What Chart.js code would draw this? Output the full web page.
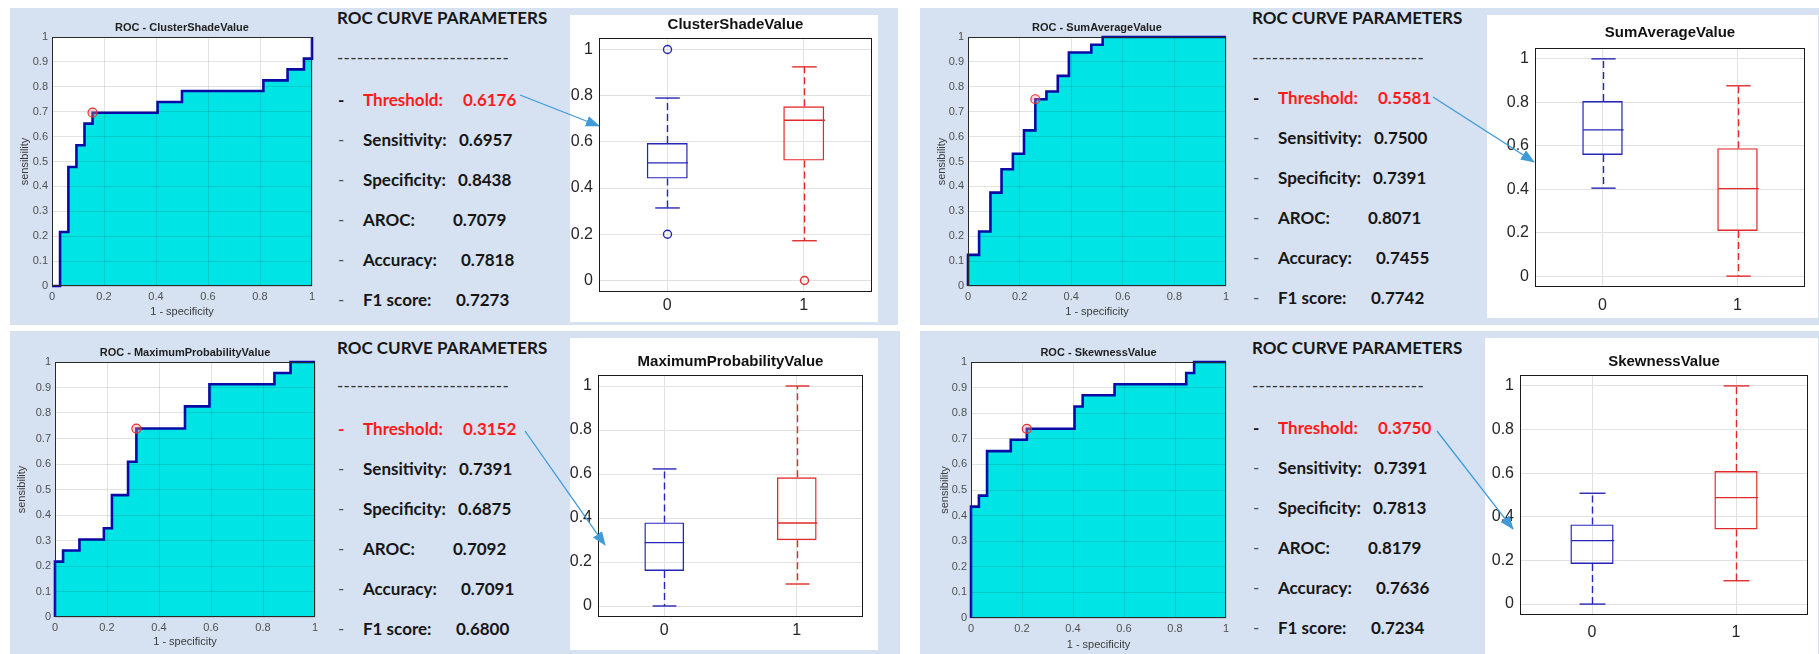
<!DOCTYPE html>
<html>
<head>
<meta charset="utf-8">
<title>ROC curves and box plots</title>
<script src="https://cdn.jsdelivr.net/npm/chart.js@4.4.1/dist/chart.umd.min.js"></script>
<style>
  html, body { margin: 0; padding: 0; }
  body { width: 1819px; height: 654px; position: relative; overflow: hidden; background: #fff; }
  .panel { position: absolute; background: #d6e2f2; }
  .plotbox { position: absolute; background: #fff; }
  canvas { position: absolute; }
  .txt { position: absolute; font-family: Lato, 'Open Sans', sans-serif; font-size: 17px; line-height: 22px;
         white-space: nowrap; color: #161616; font-weight: 700; }
  #arrows { position: absolute; left: 0; top: 0; pointer-events: none; }
</style>
</head>
<body>
<div id="stage"></div>
<svg id="arrows" width="1819" height="654"></svg>
<script>
'use strict';

/* ── data ─────────────────────────────────────────────── */
const FEATURES = ['ClusterShadeValue', 'SumAverageValue', 'MaximumProbabilityValue', 'SkewnessValue'];

// ROC vertices: x = 1 - specificity, y = sensibility (stepped curve corners)
const ROC_CLUSTER_X = [0, 0.031, 0.063, 0.094, 0.125, 0.156, 0.406, 0.500, 0.813, 0.906, 0.969, 1];
const ROC_CLUSTER_Y = [0, 0.217, 0.478, 0.565, 0.652, 0.696, 0.739, 0.783, 0.826, 0.870, 0.913, 1];
const ROC_SUMAVG_X  = [0, 0, 0.043, 0.087, 0.130, 0.174, 0.217, 0.261, 0.304, 0.348, 0.391, 0.478, 0.522, 1];
const ROC_SUMAVG_Y  = [0, 0.125, 0.219, 0.375, 0.469, 0.531, 0.625, 0.750, 0.781, 0.844, 0.938, 0.969, 1, 1];
const ROC_MAXPROB_X = [0, 0, 0.031, 0.094, 0.188, 0.219, 0.281, 0.313, 0.500, 0.594, 0.844, 0.906, 1];
const ROC_MAXPROB_Y = [0, 0.217, 0.261, 0.304, 0.348, 0.478, 0.609, 0.739, 0.826, 0.913, 0.957, 1, 1];
const ROC_SKEW_X    = [0, 0, 0.031, 0.063, 0.156, 0.219, 0.406, 0.438, 0.563, 0.844, 0.875, 1];
const ROC_SKEW_Y    = [0, 0.435, 0.478, 0.652, 0.696, 0.739, 0.826, 0.870, 0.913, 0.957, 1, 1];

// optimal operating point (red circle)
const OP_X = [0.156, 0.261, 0.313, 0.219];
const OP_Y = [0.696, 0.750, 0.739, 0.739];

const ROC_X_TICKS = [0, 0.2, 0.4, 0.6, 0.8, 1];
const ROC_Y_TICKS = [0, 0.1, 0.2, 0.3, 0.4, 0.5, 0.6, 0.7, 0.8, 0.9, 1];

// box plots, per group: [lower whisker, q1, median, q3, upper whisker]
const GROUPS = ['0', '1'];
const BOX_CLUSTER = [[0.314, 0.441, 0.509, 0.595, 0.790], [0.172, 0.519, 0.694, 0.754, 0.925]];
const BOX_SUMAVG  = [[0.405, 0.558, 0.673, 0.806, 1.000], [0.000, 0.208, 0.403, 0.589, 0.876]];
const BOX_MAXPROB = [[0.000, 0.159, 0.288, 0.380, 0.623], [0.100, 0.299, 0.377, 0.585, 1.000]];
const BOX_SKEW    = [[0.000, 0.184, 0.291, 0.365, 0.508], [0.107, 0.342, 0.488, 0.610, 1.000]];
const OUT_CLUSTER = [[1.0, 0.2], [0.0]];
const OUT_NONE    = [[], []];
const BOX_Y_TICKS = [0, 0.2, 0.4, 0.6, 0.8, 1];

// ROC parameters text
const PARAM_LABELS = ['Threshold:', 'Sensitivity:', 'Specificity:', 'AROC:', 'Accuracy:', 'F1 score:'];
const PARAMS_CLUSTER = ['0.6176', '0.6957', '0.8438', '0.7079', '0.7818', '0.7273'];
const PARAMS_SUMAVG  = ['0.5581', '0.7500', '0.7391', '0.8071', '0.7455', '0.7742'];
const PARAMS_MAXPROB = ['0.3152', '0.7391', '0.6875', '0.7092', '0.7091', '0.6800'];
const PARAMS_SKEW    = ['0.3750', '0.7391', '0.7813', '0.8179', '0.7636', '0.7234'];

/* ── look ─────────────────────────────────────────────── */
const BOX_COLORS = ['#2626b8', '#e22a2a'];
const ROC_FILL = '#00e4e6';
const ROC_LINE = '#0a0aa6';
const ARROW = '#3f9ad8';
const VALUE_DX = [100, 96, 95, 90, 98, 93];

const LAYOUT = [
  { panel: [10, 8, 888, 317], redDash: false,
    roc: { box: [10, 8, 310, 317], plot: [52, 37, 312, 286], titleY: 28, yTitleX: 25, xTitleY: 312 },
    text: { x: 337, titleY: 18, dashY: 58, rowY: 100 },
    bp: { box: [570, 15, 308, 307], plot: [599, 38, 872, 292], titleY: 25, tickY: 305 },
    arrow: [520, 95, 599, 126] },
  { panel: [920, 8, 899, 317], redDash: false,
    roc: { box: [920, 8, 314, 317], plot: [968, 37, 1226, 286], titleY: 28, yTitleX: 942, xTitleY: 312 },
    text: { x: 1252, titleY: 18, dashY: 58, rowY: 98 },
    bp: { box: [1487, 15, 331, 303], plot: [1535, 48, 1805, 287], titleY: 33, tickY: 305 },
    arrow: [1433, 97, 1534, 162] },
  { panel: [10, 331, 890, 323], redDash: true,
    roc: { box: [10, 332, 313, 322], plot: [55, 362, 315, 617], titleY: 353, yTitleX: 22, xTitleY: 642 },
    text: { x: 337, titleY: 348, dashY: 386, rowY: 429 },
    bp: { box: [570, 338, 308, 312], plot: [598, 375, 863, 617], titleY: 362, tickY: 630 },
    arrow: [525, 431, 605, 545] },
  { panel: [920, 331, 899, 323], redDash: false,
    roc: { box: [920, 332, 314, 322], plot: [971, 362, 1226, 618], titleY: 353, yTitleX: 945, xTitleY: 645 },
    text: { x: 1252, titleY: 348, dashY: 386, rowY: 428 },
    bp: { box: [1485, 338, 333, 316], plot: [1520, 375, 1808, 615], titleY: 362, tickY: 632 },
    arrow: [1437, 431, 1513, 529] },
];

const ROC_X = [ROC_CLUSTER_X, ROC_SUMAVG_X, ROC_MAXPROB_X, ROC_SKEW_X];
const ROC_Y = [ROC_CLUSTER_Y, ROC_SUMAVG_Y, ROC_MAXPROB_Y, ROC_SKEW_Y];
const BOXES = [BOX_CLUSTER, BOX_SUMAVG, BOX_MAXPROB, BOX_SKEW];
const OUTLIERS = [OUT_CLUSTER, OUT_NONE, OUT_NONE, OUT_NONE];
const PARAMS = [PARAMS_CLUSTER, PARAMS_SUMAVG, PARAMS_MAXPROB, PARAMS_SKEW];

Chart.defaults.font.family = "'Liberation Sans', Arial, sans-serif";
Chart.defaults.animation = false;

const stage = document.getElementById('stage');

function addDiv(cls, [l, t, w, h]) {
  const d = document.createElement('div');
  d.className = cls;
  Object.assign(d.style, { left: l + 'px', top: t + 'px', width: w + 'px', height: h + 'px' });
  stage.appendChild(d);
}

function addCanvas([l, t, w, h]) {
  const c = document.createElement('canvas');
  c.width = w; c.height = h;
  c.style.left = l + 'px'; c.style.top = t + 'px';
  stage.appendChild(c);
  return c;
}

function addText(x, y, text, style) {
  const s = document.createElement('span');
  s.className = 'txt';
  s.textContent = text;
  s.style.left = x + 'px';
  s.style.top = (y - 11) + 'px';
  Object.assign(s.style, style || {});
  stage.appendChild(s);
}

const fmtTick = v => String(Math.round(v * 10) / 10);

// white plot background + dark axes box (MATLAB "box on")
function framePlugin(color) {
  return {
    id: 'frame',
    beforeDraw(chart) {
      const a = chart.chartArea, ctx = chart.ctx;
      ctx.save();
      ctx.fillStyle = '#fff';
      ctx.fillRect(a.left, a.top, a.right - a.left, a.bottom - a.top);
      ctx.restore();
    },
    afterDraw(chart) {
      const a = chart.chartArea, ctx = chart.ctx;
      ctx.save();
      ctx.strokeStyle = color;
      ctx.lineWidth = 1;
      ctx.strokeRect(Math.round(a.left) + 0.5, Math.round(a.top) + 0.5,
                     Math.round(a.right - a.left) - 1, Math.round(a.bottom - a.top) - 1);
      ctx.restore();
    },
  };
}

// median, dashed whiskers, caps and outliers on top of the floating-bar boxes
function whiskerPlugin(stats, outliers) {
  return {
    id: 'whiskers',
    afterDatasetsDraw(chart) {
      const { ctx, scales: { x, y } } = chart;
      const step = x.getPixelForValue(1) - x.getPixelForValue(0);
      const boxHalf = step * 0.15, capHalf = step * 0.09;
      const seg = (x0, y0, x1, y1) => { ctx.beginPath(); ctx.moveTo(x0, y0); ctx.lineTo(x1, y1); ctx.stroke(); };
      stats.forEach((s, i) => {
        const cx = Math.round(x.getPixelForValue(i)) + 0.5;
        const [lo, q1, med, q3, hi] = s.map(v => y.getPixelForValue(v));
        ctx.save();
        ctx.strokeStyle = BOX_COLORS[i];
        ctx.lineWidth = 1.4;
        seg(cx - boxHalf, med, cx + boxHalf, med);
        seg(cx - capHalf, hi, cx + capHalf, hi);
        seg(cx - capHalf, lo, cx + capHalf, lo);
        ctx.setLineDash([7, 4]);
        seg(cx, q3, cx, hi);
        seg(cx, q1, cx, lo);
        ctx.setLineDash([]);
        outliers[i].forEach(v => {
          ctx.beginPath();
          ctx.arc(cx, y.getPixelForValue(v), 4, 0, Math.PI * 2);
          ctx.stroke();
        });
        ctx.restore();
      });
    },
  };
}

function makeRoc(k) {
  const L = LAYOUT[k].roc;
  const [l, t, w, h] = L.box;
  const [x0, y0, x1, y1] = L.plot;
  const lh = 11 * 1.2;
  const tTop = L.titleY - t - lh / 2;
  const tBottom = (y0 - t) - lh - tTop;

  new Chart(addCanvas(L.box), {
    type: 'line',
    data: {
      datasets: [
        {
          data: [{ x: OP_X[k], y: OP_Y[k] }],
          showLine: false,
          pointRadius: 4.5,
          pointBorderWidth: 1.2,
          pointBorderColor: '#e43030',
          pointBackgroundColor: 'rgba(255,140,140,0.35)',
          clip: 8,
        },
        {
          data: ROC_X[k].map((xv, i) => ({ x: xv, y: ROC_Y[k][i] })),
          stepped: 'before',
          borderColor: ROC_LINE,
          borderWidth: 2.6,
          backgroundColor: ROC_FILL,
          fill: 'origin',
          pointRadius: 0,
          clip: 4,
        },
      ],
    },
    options: {
      responsive: false,
      layout: { padding: { left: 0, top: 0, right: l + w - x1, bottom: 0 } },
      plugins: {
        legend: { display: false },
        tooltip: { enabled: false },
        title: {
          display: true,
          fullSize: false,
          text: 'ROC - ' + FEATURES[k],
          color: '#1e1e1e',
          font: { size: 11, weight: 'bold' },
          padding: { top: tTop, bottom: tBottom },
        },
      },
      scales: {
        x: {
          type: 'linear', min: 0, max: 1,
          afterBuildTicks: s => { s.ticks = ROC_X_TICKS.map(v => ({ value: v })); },
          afterFit: s => { s.height = t + h - y1; },
          ticks: { callback: fmtTick, color: '#505050', font: { size: 11 }, padding: 4, maxRotation: 0, autoSkip: false },
          grid: { color: 'rgba(0,0,0,0.11)', drawTicks: false, z: 1 },
          border: { display: false },
          title: { display: true, text: '1 - specificity', color: '#3a3a3a', font: { size: 11 },
                   padding: { top: 0, bottom: (t + h) - L.xTitleY - lh / 2 } },
        },
        y: {
          type: 'linear', min: 0, max: 1,
          afterBuildTicks: s => { s.ticks = ROC_Y_TICKS.map(v => ({ value: v })); },
          afterFit: s => { s.width = x0 - l; },
          ticks: { callback: fmtTick, color: '#505050', font: { size: 11 }, padding: 4, autoSkip: false },
          grid: { color: 'rgba(0,0,0,0.11)', drawTicks: false, z: 1 },
          border: { display: false },
          title: { display: true, text: 'sensibility', color: '#3a3a3a', font: { size: 11 },
                   padding: { top: L.yTitleX - l - lh / 2, bottom: 0 } },
        },
      },
    },
    plugins: [framePlugin('#2a2a2a')],
  });
}

function makeBox(k) {
  const L = LAYOUT[k].bp;
  const [l, t, w, h] = L.box;
  const [x0, y0, x1, y1] = L.plot;
  const lh = 15 * 1.2;
  const tTop = L.titleY - t - lh / 2;
  const tBottom = (y0 - t) - lh - tTop;
  const stats = BOXES[k];

  addDiv('plotbox', L.box);
  new Chart(addCanvas(L.box), {
    type: 'bar',
    data: {
      labels: GROUPS,
      datasets: [{
        data: stats.map(s => [s[1], s[3]]),
        backgroundColor: 'rgba(0,0,0,0)',
        borderColor: BOX_COLORS,
        borderWidth: 1.4,
        borderSkipped: false,
        barPercentage: 0.3,
        categoryPercentage: 1,
      }],
    },
    options: {
      responsive: false,
      layout: { padding: { left: 0, top: 0, right: l + w - x1, bottom: 0 } },
      plugins: {
        legend: { display: false },
        tooltip: { enabled: false },
        title: {
          display: true,
          fullSize: false,
          text: FEATURES[k],
          color: '#111',
          font: { size: 15, weight: 'bold' },
          padding: { top: tTop, bottom: tBottom },
        },
      },
      scales: {
        x: {
          offset: true,
          afterFit: s => { s.height = t + h - y1; },
          ticks: { color: '#262626', font: { size: 16 }, padding: L.tickY - y1 - 9 },
          grid: { offset: false, color: '#e2e2e2', drawTicks: false },
          border: { display: false },
        },
        y: {
          min: -0.05, max: 1.05,
          afterBuildTicks: s => { s.ticks = BOX_Y_TICKS.map(v => ({ value: v })); },
          afterFit: s => { s.width = x0 - l; },
          ticks: { callback: fmtTick, color: '#262626', font: { size: 16 }, padding: 6, autoSkip: false },
          grid: { color: '#e2e2e2', drawTicks: false },
          border: { display: false },
        },
      },
    },
    plugins: [framePlugin('#1a1a1a'), whiskerPlugin(stats, OUTLIERS[k])],
  });
}

function makeParams(k) {
  const T = LAYOUT[k].text;
  const labelX = T.x + 26;
  addText(T.x, T.titleY, 'ROC CURVE PARAMETERS');
  addText(T.x, T.dashY, '-'.repeat(26), { fontWeight: 400, color: '#333', letterSpacing: '0.3px' });
  PARAM_LABELS.forEach((lab, i) => {
    const y = T.rowY + i * 40;
    const first = i === 0;
    const color = first ? '#ff1a1a' : '#161616';
    addText(T.x + 1, y, '-', first
      ? { color: LAYOUT[k].redDash ? '#ff1a1a' : '#161616' }
      : { fontWeight: 400, color: '#555' });
    addText(labelX, y, lab, { color });
    addText(labelX + VALUE_DX[i], y, PARAMS[k][i], { color });
  });
}

LAYOUT.forEach(L => addDiv('panel', L.panel));
FEATURES.forEach((_, k) => { makeRoc(k); makeBox(k); makeParams(k); });

// blue arrows from threshold value to the box plot
const svg = document.getElementById('arrows');
svg.innerHTML =
  '<defs><marker id="ah" markerUnits="userSpaceOnUse" markerWidth="14" markerHeight="11" refX="13" refY="5.5" orient="auto">' +
  '<path d="M0,0 L14,5.5 L0,11 z" fill="' + ARROW + '"/></marker></defs>' +
  LAYOUT.map(L => {
    const [ax, ay, bx, by] = L.arrow;
    return '<line x1="' + ax + '" y1="' + ay + '" x2="' + bx + '" y2="' + by +
           '" stroke="' + ARROW + '" stroke-width="1.3" marker-end="url(#ah)"/>';
  }).join('');
</script>
</body>
</html>
